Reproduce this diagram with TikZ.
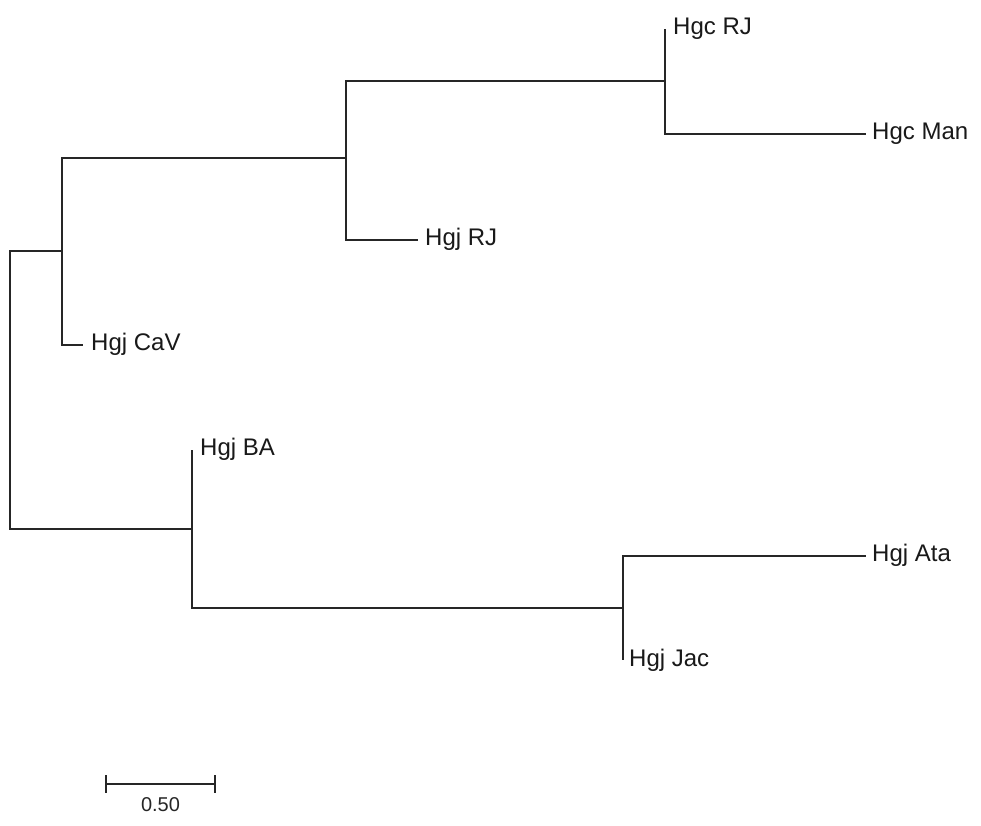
\documentclass[tikz,border=0pt]{standalone}
\usepackage{fontspec}
\setmainfont{Liberation Sans}
\usetikzlibrary{positioning,calc}
\tikzset{
  branch/.style={line width=2pt,black!85},
  taxon/.style={anchor=base west,inner sep=0pt,font=\fontsize{24}{28}\selectfont,text=black!90},
  scaletxt/.style={anchor=base,inner sep=0pt,font=\fontsize{20}{24}\selectfont,text=black!85},
}
\begin{document}
\begin{tikzpicture}[x=1pt,y=-1pt]
  \useasboundingbox[fill=white] (0,0) rectangle (981,825);
  % internal nodes
  \coordinate (nroot) at (10,390);
  \coordinate (nA) at (62,251);
  \coordinate (nB) at (346,158);
  \coordinate (nC) at (665,81);
  \coordinate (nD) at (192,529);
  \coordinate (nE) at (623,608);
  % branch tips
  \coordinate (tRJc) at (665,29);
  \coordinate (tMan) at (866,134);
  \coordinate (tRJj) at (418,240);
  \coordinate (tCaV) at (83,345);
  \coordinate (tBA) at (192,450);
  \coordinate (tAta) at (866,556);
  \coordinate (tJac) at (623,660);
  % taxa
  \node[taxon] (lRJc) at ([xshift=8pt,yshift=-5pt]tRJc) {Hgc RJ};
  \node[taxon] (lMan) at ([xshift=6pt,yshift=-5pt]tMan) {Hgc Man};
  \node[taxon] (lRJj) at ([xshift=7pt,yshift=-5pt]tRJj) {Hgj RJ};
  \node[taxon] (lCaV) at ([xshift=8pt,yshift=-5pt]tCaV) {Hgj CaV};
  \node[taxon] (lBA) at ([xshift=8pt,yshift=-5pt]tBA) {Hgj BA};
  \node[taxon] (lAta) at ([xshift=6pt,yshift=-5pt]tAta) {Hgj Ata};
  \node[taxon] (lJac) at ([xshift=6pt,yshift=-6pt]tJac) {Hgj Jac};
  % tree
  \draw[branch] (nroot) |- (nA);
  \draw[branch] (nroot) |- (nD);
  \draw[branch] (nA) |- (nB);
  \draw[branch] (nA) |- (tCaV);
  \draw[branch] (nB) |- (nC);
  \draw[branch] (nB) |- (tRJj);
  \draw[branch] (nC) |- (tRJc);
  \draw[branch] (nC) |- (tMan);
  \draw[branch] (nD) |- (tBA);
  \draw[branch] (nD) |- (nE);
  \draw[branch] (nE) |- (tAta);
  \draw[branch] (nE) |- (tJac);
  % scale bar
  \coordinate (sbL) at (106,784);
  \coordinate (sbR) at (215,784);
  \draw[branch] (sbL) -- (sbR);
  \draw[branch] ([yshift=9pt]sbL) -- ([yshift=-9pt]sbL);
  \draw[branch] ([yshift=9pt]sbR) -- ([yshift=-9pt]sbR);
  \node[scaletxt] (lscale) at ([yshift=-27pt]$(sbL)!0.5!(sbR)$) {0.50};
\end{tikzpicture}
\end{document}
